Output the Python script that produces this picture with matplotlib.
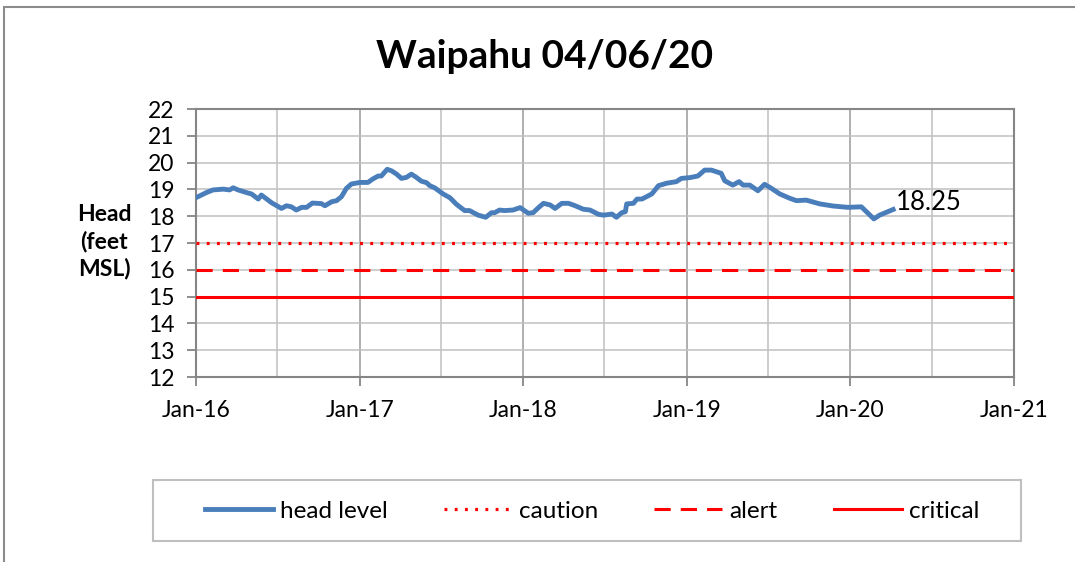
import matplotlib
matplotlib.use("Agg")
import matplotlib.pyplot as plt
import matplotlib.dates as mdates
from matplotlib.lines import Line2D
from matplotlib.patches import Rectangle
import pandas as pd

plt.rcParams['font.family'] = ['Lato', 'DejaVu Sans']

# weekly-ish head readings
head_dates = ['2016-01-02', '2016-01-24', '2016-02-08', '2016-03-02', '2016-03-16', '2016-03-24',
              '2016-04-04', '2016-04-23', '2016-05-04', '2016-05-19', '2016-05-26', '2016-06-18',
              '2016-07-10', '2016-07-21', '2016-08-01', '2016-08-12', '2016-08-24', '2016-09-04',
              '2016-09-17', '2016-10-07', '2016-10-15', '2016-10-30', '2016-11-10', '2016-11-21',
              '2016-12-02', '2016-12-13', '2017-01-01', '2017-01-19', '2017-01-30', '2017-02-11',
              '2017-02-18', '2017-03-03', '2017-03-13', '2017-03-24', '2017-04-04', '2017-04-15',
              '2017-04-26', '2017-05-07', '2017-05-18', '2017-05-30', '2017-06-06', '2017-06-17',
              '2017-07-06', '2017-07-21', '2017-08-05', '2017-08-23', '2017-09-03', '2017-09-22',
              '2017-10-09', '2017-10-22', '2017-10-29', '2017-11-09', '2017-11-20', '2017-12-09',
              '2017-12-25', '2018-01-12', '2018-01-23', '2018-02-04', '2018-02-15', '2018-03-02',
              '2018-03-13', '2018-03-28', '2018-04-12', '2018-04-27', '2018-05-15', '2018-05-30',
              '2018-06-18', '2018-06-29', '2018-07-18', '2018-07-28', '2018-08-09', '2018-08-17',
              '2018-08-20', '2018-09-04', '2018-09-12', '2018-09-23', '2018-10-15', '2018-10-30',
              '2018-11-17', '2018-12-09', '2018-12-20', '2019-01-08', '2019-01-26', '2019-02-10',
              '2019-02-25', '2019-03-19', '2019-03-27', '2019-04-14', '2019-04-28', '2019-05-07',
              '2019-05-22', '2019-06-09', '2019-06-24', '2019-07-09', '2019-07-28', '2019-08-19',
              '2019-09-03', '2019-09-25', '2019-10-25', '2019-11-24', '2019-12-27', '2020-01-26',
              '2020-02-23', '2020-03-07', '2020-04-06']
head_level = [18.70, 18.88, 18.98, 19.01, 18.98, 19.06,
              18.98, 18.88, 18.83, 18.64, 18.79, 18.50,
              18.29, 18.39, 18.35, 18.23, 18.33, 18.33,
              18.49, 18.47, 18.39, 18.54, 18.58, 18.73,
              19.04, 19.20, 19.26, 19.26, 19.39, 19.50,
              19.50, 19.75, 19.69, 19.57, 19.41, 19.45,
              19.57, 19.45, 19.31, 19.25, 19.14, 19.06,
              18.83, 18.69, 18.44, 18.21, 18.21, 18.04,
              17.96, 18.13, 18.13, 18.23, 18.21, 18.23,
              18.32, 18.11, 18.13, 18.32, 18.48, 18.42,
              18.29, 18.48, 18.48, 18.39, 18.26, 18.23,
              18.07, 18.04, 18.08, 17.96, 18.13, 18.17,
              18.46, 18.48, 18.64, 18.64, 18.83, 19.14,
              19.23, 19.29, 19.41, 19.44, 19.50, 19.72,
              19.72, 19.60, 19.32, 19.16, 19.29, 19.16,
              19.16, 18.95, 19.19, 19.04, 18.83, 18.67,
              18.58, 18.60, 18.46, 18.38, 18.33, 18.35,
              17.90, 18.04, 18.25]

caution = 17
alert = 16
critical = 15
last_label = '18.25'

x = pd.to_datetime(head_dates)
x0 = pd.Timestamp('2016-01-01')
x1 = pd.Timestamp('2021-01-01')

fig = plt.figure(figsize=(10.75, 5.62), dpi=100)
fig.patches.append(Rectangle((4 / 1075, -0.1), 1.2, 1.1 - 6.5 / 562,
                             transform=fig.transFigure, fill=False,
                             edgecolor='#8c8c8c', lw=1.5))

ax = fig.add_axes([196 / 1075, 1 - 377 / 562, 818 / 1075, 268 / 562])

blue = '#4a7ebb'
red = '#ff0000'
ax.plot(x, head_level, color=blue, lw=3.5, solid_joinstyle='round', zorder=5)
ax.axhline(caution, color=red, lw=2.3, linestyle=(0, (0.9, 2.3)), zorder=4)
ax.axhline(alert, color=red, lw=2.2, linestyle=(0, (5.3, 3.3)), zorder=4)
ax.axhline(critical, color=red, lw=2.2, zorder=4)

ax.annotate(last_label, xy=(x[-1], head_level[-1]), xytext=(2, 5),
            textcoords='offset points', ha='left', va='center', fontsize=18.5)

ax.set_xlim(x0, x1)
ax.set_ylim(12, 22)
ax.set_yticks(range(12, 23))
ax.xaxis.set_major_locator(mdates.YearLocator())
ax.xaxis.set_major_formatter(mdates.DateFormatter('%b-%y'))
ax.xaxis.set_minor_locator(mdates.MonthLocator(bymonth=7))

ax.grid(True, which='major', axis='y', color='#c0c0c0', lw=1.1)
ax.grid(True, which='major', axis='x', color='#9a9a9a', lw=1.1)
ax.grid(True, which='minor', axis='x', color='#c0c0c0', lw=1.1)
ax.set_axisbelow(True)
ax.tick_params(axis='both', which='major', length=6.5, width=1.3, color='#868686',
               labelsize=16.5, pad=9)
ax.tick_params(axis='x', which='minor', length=0)
ax.tick_params(axis='x', which='major', pad=10)
for s in ax.spines.values():
    s.set_color('#868686')
    s.set_linewidth(1.5)

fig.text(0.507, 1 - 57 / 562, 'Waipahu 04/06/20', ha='center', va='center',
         fontsize=28, fontweight='bold')
fig.text(104 / 1075, 1 - 242 / 562, 'Head\n(feet\nMSL)', ha='center', va='center',
         fontsize=16.5, fontweight='bold', linespacing=1.3)

# legend box
fig.patches.append(Rectangle((153 / 1075, 1 - 541 / 562), 868 / 1075, 61 / 562,
                             transform=fig.transFigure, fill=False,
                             edgecolor='#bfbfbf', lw=1.5))
handles = [Line2D([], [], color=blue, lw=3.5),
           Line2D([], [], color=red, lw=2.3, linestyle=(0, (0.9, 2.3))),
           Line2D([], [], color=red, lw=2.2, linestyle=(0, (5.3, 3.3))),
           Line2D([], [], color=red, lw=2.2)]
labels = ['head level', 'caution', 'alert', 'critical']
fig.legend(handles, labels, loc='center', bbox_to_anchor=(592 / 1075, 1 - 511 / 562),
           ncol=4, frameon=False, fontsize=17.5, handlelength=2.8,
           handletextpad=0.3, columnspacing=2.3)

fig.savefig('out.png', dpi=100)
